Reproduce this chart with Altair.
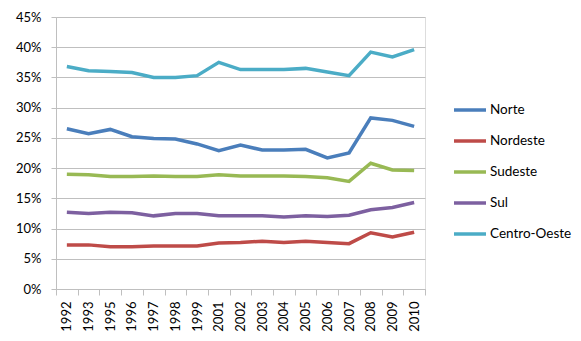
import altair as alt
import pandas as pd

years = ["1992", "1993", "1995", "1996", "1997", "1998", "1999", "2001", "2002",
         "2003", "2004", "2005", "2006", "2007", "2008", "2009", "2010"]
series = ["Norte", "Nordeste", "Sudeste", "Sul", "Centro-Oeste"]
colors = ["#4A7EBB", "#BE4B48", "#98B954", "#7D60A0", "#4BACC6"]

norte = [26.5, 25.7, 26.4, 25.2, 24.9, 24.8, 24.0, 22.9, 23.8, 23.0, 23.0, 23.1, 21.7, 22.5, 28.3, 27.9, 26.9]
nordeste = [7.3, 7.3, 7.0, 7.0, 7.1, 7.1, 7.1, 7.6, 7.7, 7.9, 7.7, 7.9, 7.7, 7.5, 9.3, 8.6, 9.4]
sudeste = [19.0, 18.9, 18.6, 18.6, 18.7, 18.6, 18.6, 18.9, 18.7, 18.7, 18.7, 18.6, 18.4, 17.8, 20.8, 19.7, 19.6]
sul = [12.7, 12.5, 12.7, 12.6, 12.1, 12.5, 12.5, 12.1, 12.1, 12.1, 11.9, 12.1, 12.0, 12.2, 13.1, 13.5, 14.3]
centro_oeste = [36.8, 36.1, 36.0, 35.8, 35.0, 35.0, 35.3, 37.5, 36.3, 36.3, 36.3, 36.5, 35.9, 35.3, 39.2, 38.4, 39.6]

values = [norte, nordeste, sudeste, sul, centro_oeste]
rows = []
for name, vals in zip(series, values):
    for y, v in zip(years, vals):
        rows.append({"ano": y, "regiao": name, "valor": v / 100.0})
df = pd.DataFrame(rows)

FONT = "Lato"

chart = alt.Chart(df).mark_line(strokeWidth=3.5, interpolate="linear").encode(
    x=alt.X("ano:O", sort=years, scale=alt.Scale(type="band", paddingInner=0, paddingOuter=0),
            axis=alt.Axis(title=None, labelAngle=-90, tickBand="extent", grid=False,
                          domain=True, domainColor="#BFBFBF", domainWidth=1,
                          ticks=True, tickColor="#BFBFBF", tickSize=6, tickWidth=1,
                          labelFont=FONT, labelFontSize=13, labelColor="#000000",
                          labelPadding=6, labelAlign="right", labelBaseline="middle")),
    y=alt.Y("valor:Q", scale=alt.Scale(domain=[0, 0.45], nice=False),
            axis=alt.Axis(title=None, format=".0%", values=[i * 0.05 for i in range(10)],
                          grid=True, gridColor="#BFBFBF", gridWidth=1,
                          domain=True, domainColor="#BFBFBF", domainWidth=1,
                          ticks=True, tickColor="#BFBFBF", tickSize=5, tickWidth=1,
                          labelFont=FONT, labelFontSize=13, labelColor="#000000",
                          labelPadding=10)),
    color=alt.Color("regiao:N", sort=series,
                    scale=alt.Scale(domain=series, range=colors),
                    legend=alt.Legend(title=None, orient="none", legendX=396, legendY=75,
                                      symbolType="stroke", symbolSize=1024, symbolStrokeWidth=3.5,
                                      labelFont=FONT, labelFontSize=13.5, labelColor="#000000",
                                      labelOffset=2, rowPadding=6, padding=0)),
).properties(
    width=369, height=272,
    autosize=alt.AutoSizeParams(type="none"),
    padding={"left": 56, "top": 17, "right": 156, "bottom": 52},
).configure_view(stroke=None).configure(background="#FFFFFF")

chart.save("out.html", embed_options={"renderer": "svg", "actions": False})
